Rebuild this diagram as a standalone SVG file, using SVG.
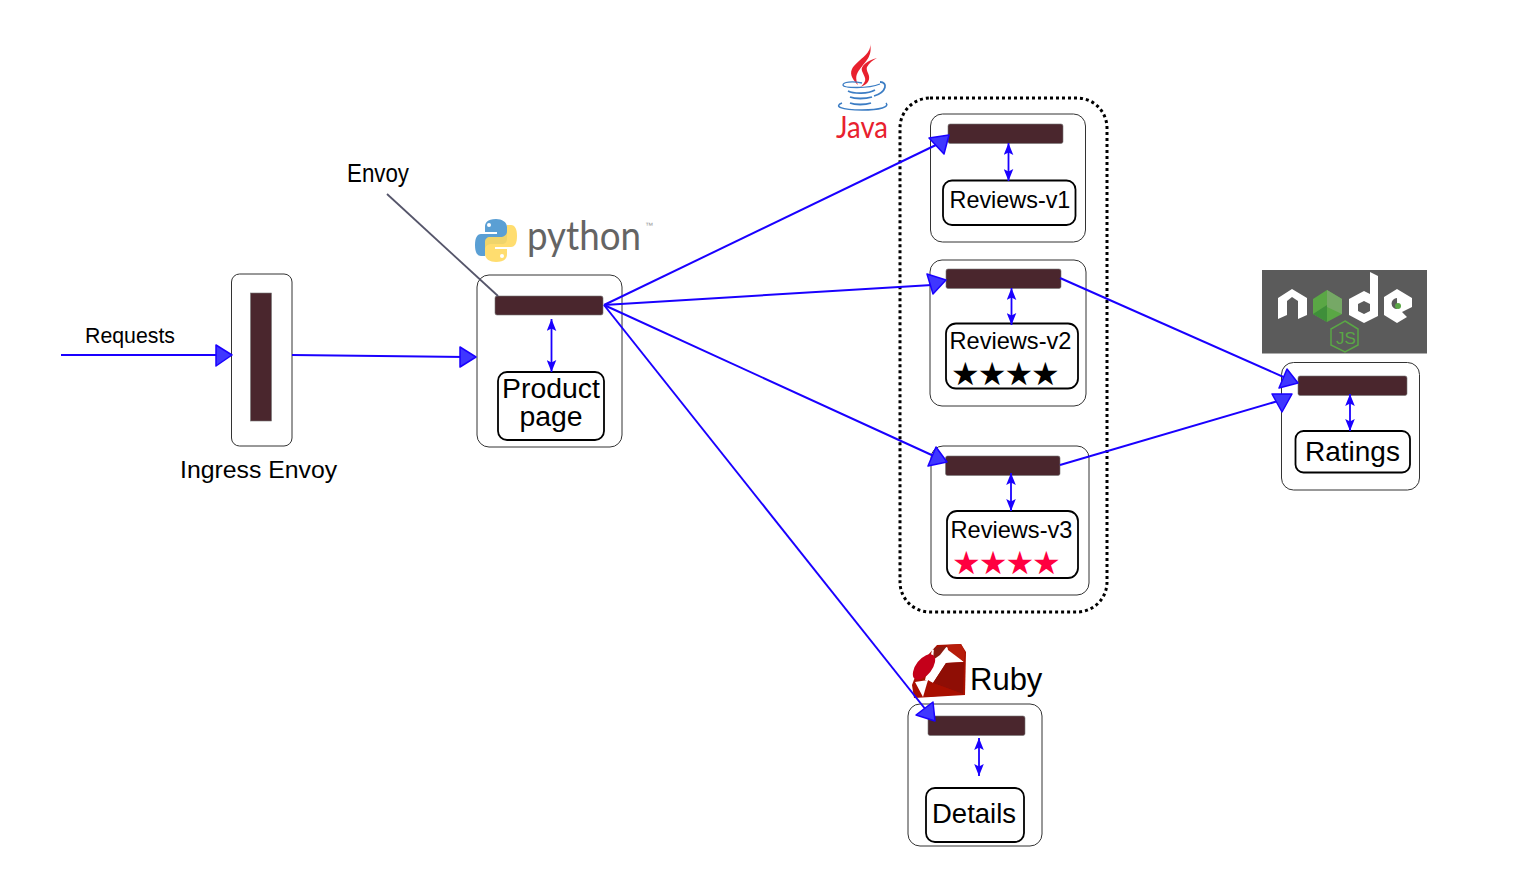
<svg xmlns="http://www.w3.org/2000/svg" width="1538" height="870" viewBox="0 0 1538 870">
<style>
text{font-family:"Liberation Sans",Arial,sans-serif;fill:#000}
.outer{fill:#fff;stroke:#333;stroke-width:1}
.inner{fill:#fff;stroke:#000;stroke-width:1.800}
.bar{fill:#4a262d;stroke:#777;stroke-width:.6}
.line{fill:none;stroke:#1a00ff;stroke-width:2}
.head{fill:#3f37ff;stroke:#1a00ff;stroke-width:1.5;stroke-linejoin:round}
.dbl{fill:none;stroke:#1a00ff;stroke-width:1.800;marker-start:url(#sm);marker-end:url(#sm)}
.star{font-family:"DejaVu Sans",sans-serif;font-size:32px;letter-spacing:-2px}
</style>
<defs>
<marker id="sm" markerUnits="userSpaceOnUse" markerWidth="12" markerHeight="10" refX="10" refY="4" orient="auto-start-reverse" viewBox="0 0 10 8"><path d="M0 0L10 4L0 8L2 4Z" fill="#1a00ff"/></marker>
</defs>

<g id="java-logo">
<path d="M870 44C872 54 857 60 852 69C849 75 854 81 858 85C855 78 856 74 860 69C865 62 873 56 870 44Z" fill="#e8212e"/>
<path d="M877 58C868 60 860 66 862 71C864 76 867 79 864 83C862 86 860 87 860 87C866 85 870 82 869 76C868 72 866 70 867 67C869 63 873 60 877 58Z" fill="#e8212e"/>
<g fill="none" stroke="#3c7dc4">
<path d="M862 83C852 81 843 82 843 85C843 88 868 89 880 84" stroke-width="1.300"/>
<path d="M848 91C854 94 868 94 875 90M880 82C888 82 887 92 874 96" stroke-width="1.800"/>
<path d="M850 97C855 99 865 99 872 97" stroke-width="1.800"/>
<path d="M850 103C855 105 865 105 871 103" stroke-width="1.800"/>
<path d="M842 103C834 106 840 110 862 110C880 110 890 107 886 103" stroke-width="1.500"/>
</g>
<text x="836" y="138" font-size="30" textLength="52" lengthAdjust="spacingAndGlyphs" style="font-family:Lato,sans-serif;fill:#e8212e">Java</text>
</g>

<g id="python-logo">
<path d="M496 219C487 219 485 223 485 227V232H497V234H481C477 234 475 238 475 245C475 252 477 256 481 256H485V250C485 246 488 244 492 244H502C505 244 507 242 507 239V227C507 222 502 219 496 219Z" fill="#5a9fd4"/>
<path d="M496 262C505 262 507 258 507 254V249H495V247H511C515 247 517 243 517 236C517 229 515 225 511 225H507V231C507 235 504 237 500 237H490C487 237 485 239 485 242V254C485 259 490 262 496 262Z" fill="#ffd95f" opacity=".9"/>
<circle cx="489" cy="225" r="2" fill="#fff"/><circle cx="502" cy="256" r="2" fill="#fff"/>
<text x="527" y="250" font-size="41" textLength="114" lengthAdjust="spacingAndGlyphs" style="font-family:Lato,sans-serif;fill:#646464">python</text>
<text x="645" y="228" font-size="8" style="fill:#999">™</text>
</g>

<g id="node-logo">
<rect x="1262" y="270" width="165" height="83.500" fill="#5b5b5b"/>
<path d="M1278 298L1292 289L1307 298V315L1298 319V301L1292 297L1287 301V315L1278 319Z" fill="#fff"/>
<polygon points="1327,290 1342,299 1342,314 1327,322 1313,314 1313,299" fill="#5aa745"/>
<polygon points="1327,290 1342,299 1342,314 1327,307" fill="#76a866"/>
<polygon points="1313,314 1327,305 1327,322" fill="#3f8f3a"/>
<path d="M1370 272L1378 276V316L1364 323L1349 315V299L1364 291L1370 294ZM1364 301L1358 304V311L1364 314L1370 311V304Z" fill="#fff" fill-rule="evenodd"/>
<path d="M1397 289L1412 298V307L1402 312L1407 317L1397 323L1384 315V297ZM1397 298A5.500 5.500 0 1 0 1397.100 309Z" fill="#fff" fill-rule="evenodd"/>
<circle cx="1398" cy="306" r="3" fill="#5aa745"/>
<polygon points="1345,321 1358,329 1358,345 1345,352 1331,345 1331,329" fill="none" stroke="#5aa745" stroke-width="1.500"/>
<text x="1336" y="344" font-size="17" style="fill:#5aa745">JS</text>
</g>

<g id="ruby-logo">
<polygon points="937,645 961,644 966,652 965,695 914,698 912,685 920,664" fill="#a80f00"/>
<polygon points="932,650 947,647 964,662 946,663 933,683 925,680" fill="#fff"/>
<polygon points="947,645 961,644 965,652 964,662 948,650" fill="#b71c0a"/>
<polygon points="934,648 947,646 940,655 933,660" fill="#8a1a10"/>
<polygon points="946,663 964,662 963,694 933,683" fill="#8f0e05"/>
<polygon points="933,683 963,694 925,697 928,680" fill="#a80f00"/>
<ellipse cx="924" cy="667" rx="8" ry="15" transform="rotate(38 924 667)" fill="#c4001a"/>
<polygon points="915,682 928,680 923,697" fill="#fff"/>
<text x="970" y="690" font-size="31">Ruby</text>
</g>

<g id="java-group"><rect x="900" y="98" width="207" height="514" rx="30" fill="none" stroke="#000" stroke-width="3" stroke-dasharray="3 3"/></g>

<g id="ingress-envoy">
<rect class="outer" x="231.500" y="274" width="60.500" height="172" rx="8"/>
<rect class="bar" x="250.500" y="293" width="21" height="128"/>
<text x="180" y="478" font-size="24.800">Ingress Envoy</text>
</g>
<g id="productpage">
<rect class="outer" x="477" y="275" width="145" height="172" rx="12"/>
<rect class="bar" x="495" y="296" width="108" height="19" rx="2"/>
<rect class="inner" x="498" y="372" width="106" height="68" rx="9"/>
<text font-size="28.400" text-anchor="middle"><tspan x="551" y="398">Product</tspan><tspan x="551" y="426">page</tspan></text>
</g>
<g id="reviews-v1">
<rect class="outer" x="930.500" y="114" width="155" height="128" rx="12"/>
<rect class="bar" x="948" y="124" width="115" height="19.500" rx="2"/>
<rect class="inner" x="943" y="180.500" width="132.500" height="44.500" rx="9"/>
<text x="949.500" y="208" font-size="23.400">Reviews-v1</text>
</g>
<g id="reviews-v2">
<rect class="outer" x="930" y="260" width="156" height="146" rx="12"/>
<rect class="bar" x="946" y="269" width="115" height="19.500" rx="2"/>
<rect class="inner" x="946" y="323.500" width="132" height="65" rx="10"/>
<text x="949.500" y="349" font-size="23.600">Reviews-v2</text>
<text class="star" x="951" y="385">★★★★</text>
</g>
<g id="reviews-v3">
<rect class="outer" x="931" y="446" width="158" height="149" rx="12"/>
<rect class="bar" x="945.500" y="456" width="114.500" height="19.500" rx="2"/>
<rect class="inner" x="947" y="511" width="131" height="67" rx="10"/>
<text x="950.500" y="538" font-size="23.600">Reviews-v3</text>
<text class="star" x="952" y="574" style="fill:#ff0040">★★★★</text>
</g>
<g id="ratings">
<rect class="outer" x="1281.500" y="362.500" width="138" height="127.500" rx="12"/>
<rect class="bar" x="1298" y="376" width="109" height="19.500" rx="2"/>
<rect class="inner" x="1295.500" y="431" width="114.500" height="41.500" rx="8"/>
<text x="1305" y="460.500" font-size="28">Ratings</text>
</g>
<g id="details">
<rect class="outer" x="908" y="704" width="134" height="142" rx="12"/>
<rect class="bar" x="928" y="716" width="97" height="19.500" rx="2"/>
<rect class="inner" x="926" y="788" width="98" height="54" rx="9"/>
<text x="932" y="823" font-size="27.500">Details</text>
</g>
<g id="labels">
<text x="85" y="343" font-size="21.300">Requests</text>
<text x="347" y="182" font-size="25" textLength="62" lengthAdjust="spacingAndGlyphs">Envoy</text>
</g>

<g id="connectors">
<line x1="387" y1="194" x2="498" y2="296" stroke="#55556a" stroke-width="1.800"/>
<path class="line" d="M61 355H222"/>
<path class="line" d="M292 355L466 357"/>
<path class="line" d="M604 305L938 144"/>
<path class="line" d="M604 305L932 285"/>
<path class="line" d="M604 305L936 457"/>
<path class="line" d="M604 305L926 710"/>
<path class="line" d="M1060 278L1288 379"/>
<path class="line" d="M1060 465L1278 401"/>
<polygon class="head" points="216,345 232,355 216,366"/>
<polygon class="head" points="460,347 476,357 460,367"/>
<polygon class="head" points="929,138 949,135 944,154"/>
<polygon class="head" points="927,274 946,280 933,294"/>
<polygon class="head" points="936,447 947,462 928,466"/>
<polygon class="head" points="933,702 935,721 916,715"/>
<polygon class="head" points="1287,369 1298,383 1279,388"/>
<polygon class="head" points="1272,394 1292,394 1282,412"/>
<path class="dbl" d="M551.500 319V372"/>
<path class="dbl" d="M1008.500 143V181"/>
<path class="dbl" d="M1011.500 288V325"/>
<path class="dbl" d="M1011 473V511"/>
<path class="dbl" d="M1350 394V431"/>
<path class="dbl" d="M979 738V776"/>
</g>
</svg>
